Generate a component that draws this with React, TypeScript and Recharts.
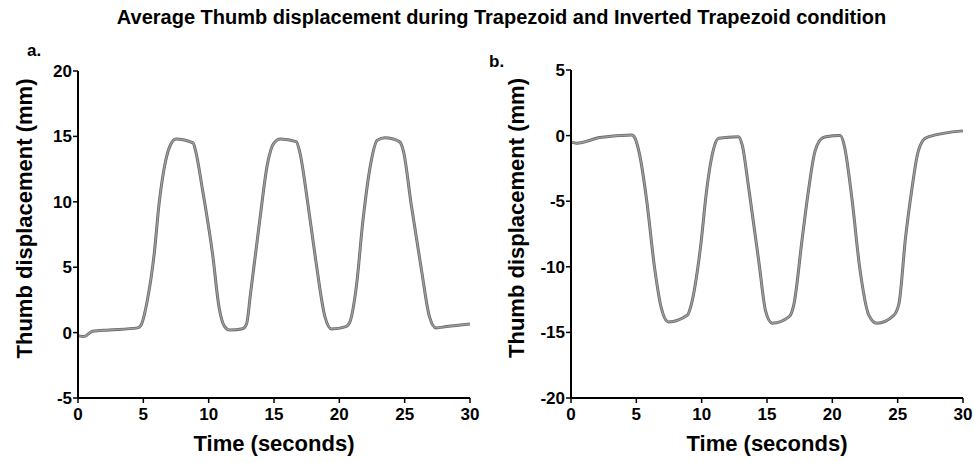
import React from 'react';
import { LineChart, Line, XAxis, YAxis } from 'recharts';

// panel a: trapezoid condition (seconds, mm)
const timeA = [0, 0.46, 1.1, 2.4, 4.55, 4.8, 5.3, 5.83, 6.2, 6.7, 7.1, 7.5, 8.8, 9.0, 9.5, 10.3, 10.8, 11.2, 11.6, 12.6, 12.9, 13.2, 13.9, 14.5, 15.0, 15.5, 16.7, 16.95, 17.6, 18.2, 18.9, 19.4, 20.5, 20.8, 21.3, 21.8, 22.4, 22.9, 23.5, 24.6, 24.9, 25.5, 26.3, 26.9, 27.4, 28.2, 30];
const dispA = [-0.23, -0.3, 0.1, 0.2, 0.36, 0.53, 2.44, 6.0, 9.8, 13.1, 14.4, 14.8, 14.5, 13.9, 11.1, 6.0, 1.9, 0.5, 0.2, 0.3, 0.66, 2.95, 8.5, 12.9, 14.5, 14.8, 14.6, 13.9, 9.8, 5.5, 1.2, 0.28, 0.46, 0.8, 3.5, 8.5, 12.9, 14.7, 14.9, 14.6, 13.9, 9.8, 4.7, 1.2, 0.36, 0.46, 0.66];

// panel b: inverted trapezoid condition
const timeB = [0, 0.43, 2.2, 4.65, 4.9, 5.3, 5.8, 6.4, 6.9, 7.45, 8.9, 9.2, 9.9, 10.4, 10.8, 11.3, 12.8, 13.1, 13.6, 14.4, 14.9, 15.4, 16.7, 17.05, 17.7, 18.2, 18.6, 19.1, 19.5, 20.6, 20.9, 21.5, 22.1, 22.8, 23.4, 24.7, 25.1, 25.6, 26.1, 26.5, 27.0, 27.4, 30];
const dispB = [-0.5, -0.58, -0.15, 0.05, -0.2, -1.7, -5.0, -10.1, -13.1, -14.2, -13.7, -12.9, -8.6, -4.0, -1.5, -0.2, -0.08, -0.7, -4.0, -9.8, -13.4, -14.3, -13.8, -12.9, -7.8, -4.0, -1.5, -0.3, -0.08, 0, -0.7, -4.8, -10.1, -13.7, -14.3, -13.7, -12.8, -7.8, -4.0, -1.5, -0.3, -0.08, 0.36];

const timeTicks = [0, 5, 10, 15, 20, 25, 30];
const ticksA = [-5, 0, 5, 10, 15, 20];
const ticksB = [-20, -15, -10, -5, 0, 5];

const dataA = timeA.map((t, i) => ({ t, y: dispA[i] }));
const dataB = timeB.map((t, i) => ({ t, y: dispB[i] }));

const FONT = '"Liberation Sans", Arial, sans-serif';
const labelStyle = { fill: '#000', fontSize: 22, fontWeight: 700, fontFamily: FONT, textAnchor: 'middle' as const };
const tickText = { fill: '#000', fontSize: 17, fontWeight: 700, fontFamily: FONT };

const XTick = (props: any) => {
  const { x, y, payload } = props;
  return (
    <text x={x} y={y + 15} textAnchor="middle" style={tickText}>
      {payload.value}
    </text>
  );
};

const YTick = (props: any) => {
  const { x, y, payload } = props;
  return (
    <text x={x} y={y + 6} textAnchor="end" style={tickText}>
      {payload.value}
    </text>
  );
};

const yLabel = (labelX: number) => (props: any) => {
  const vb = props.viewBox;
  const cx = vb.x + labelX;
  const cy = vb.y + vb.height / 2 - 16;
  return (
    <text x={cx} y={cy} transform={`rotate(-90, ${cx}, ${cy})`} dy="0.36em" style={labelStyle}>
      Thumb displacement (mm)
    </text>
  );
};

interface PanelProps {
  data: { t: number; y: number }[];
  yTicks: number[];
  yAxisWidth: number;
  width: number;
  top: number;
  right: number;
  labelX: number;
}

const Panel: React.FC<PanelProps> = ({ data, yTicks, yAxisWidth, width, top, right, labelX }) => (
  <LineChart width={width} height={462} data={data} margin={{ top, right, bottom: 34, left: 0 }}>
    <XAxis
      dataKey="t"
      type="number"
      domain={[0, 30]}
      ticks={timeTicks}
      height={30}
      axisLine={{ stroke: '#000', strokeWidth: 2 }}
      tickLine={{ stroke: '#000', strokeWidth: 1.5 }}
      tickSize={5}
      tick={<XTick />}
      label={{ value: 'Time (seconds)', position: 'bottom', offset: 7, style: labelStyle }}
    />
    <XAxis xAxisId="top" orientation="top" dataKey="t" type="number" domain={[0, 30]} height={0} tick={false} tickLine={false} axisLine={{ stroke: '#000', strokeWidth: 2 }} />
    <YAxis
      type="number"
      domain={[yTicks[0], yTicks[yTicks.length - 1]]}
      ticks={yTicks}
      width={yAxisWidth}
      axisLine={{ stroke: '#000', strokeWidth: 2 }}
      tickLine={{ stroke: '#000', strokeWidth: 1.5 }}
      tickSize={5}
      tickMargin={1}
      tick={<YTick />}
      label={{ content: yLabel(labelX) }}
    />
    <YAxis yAxisId="right" orientation="right" domain={[yTicks[0], yTicks[yTicks.length - 1]]} width={0} tick={false} tickLine={false} axisLine={{ stroke: '#000', strokeWidth: 2 }} />
    <Line type="monotone" dataKey="y" stroke="#6a6a6a" strokeWidth={3} dot={false} isAnimationActive={false} />
    <Line type="monotone" dataKey="y" stroke="#9d9d9d" strokeWidth={1.4} dot={false} isAnimationActive={false} />
  </LineChart>
);

const App: React.FC = () => {
  return (
    <div style={{ position: 'absolute', left: 0, top: 0, width: 974, height: 462, background: '#fff', fontFamily: FONT }}>
      <div style={{ position: 'absolute', left: 0, top: 6, width: 1003, textAlign: 'center', fontSize: 20, fontWeight: 'bold' }}>
        Average Thumb displacement during Trapezoid and Inverted Trapezoid condition
      </div>
      <div style={{ position: 'absolute', left: 27, top: 41, fontSize: 17, fontWeight: 'bold' }}>a.</div>
      <div style={{ position: 'absolute', left: 489, top: 52, fontSize: 17, fontWeight: 'bold' }}>b.</div>
      <div style={{ position: 'absolute', left: 0, top: 0 }}>
        <Panel data={dataA} yTicks={ticksA} yAxisWidth={78} width={490} top={71} right={20} labelX={24} />
      </div>
      <div style={{ position: 'absolute', left: 490, top: 0 }}>
        <Panel data={dataB} yTicks={ticksB} yAxisWidth={81} width={484} top={70} right={11} labelX={26} />
      </div>
    </div>
  );
};

export default App;
